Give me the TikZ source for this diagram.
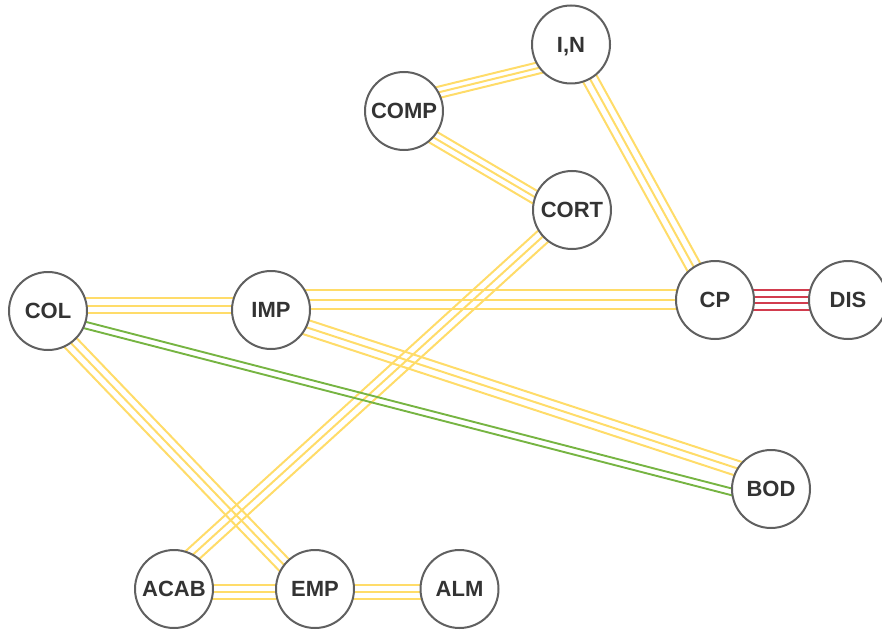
\documentclass[tikz,border=0pt]{standalone}
\usepackage{fontspec}
\setmainfont{Liberation Sans}
\usetikzlibrary{calc,backgrounds}

\definecolor{tie}{RGB}{255,220,105}
\definecolor{clash}{RGB}{210,60,78}
\definecolor{bond}{RGB}{118,180,66}
\definecolor{rim}{RGB}{96,96,96}
\definecolor{ink}{RGB}{51,51,51}

\tikzset{
  person/.style={circle, draw=rim, line width=2pt, fill=white,
    minimum size=78pt, inner sep=0pt, text=ink,
    font=\fontsize{22}{26}\selectfont\bfseries,
    text height=15.7pt, text depth=0pt},
  tieline/.style={draw=tie, line width=2pt},
  clashline/.style={draw=clash, line width=1.9pt},
  bondline/.style={draw=bond, line width=1.9pt}
}

% parallel strands between two points, offsets in pt (positive = left of travel)
\newcommand{\strands}[4]{%
  \foreach \o in {#4}{%
    \draw[#3] ($(#1)!\o pt!90:(#2)$) -- ($(#2)!\o pt!-90:(#1)$);
  }%
}

\begin{document}
\begin{tikzpicture}[x=1pt,y=-1pt]
  \useasboundingbox (0,0) rectangle (882,631);

  % people
  \node[person] (IN)   at (571,44.5) {I,N};
  \node[person] (COMP) at (404,111)  {COMP};
  \node[person] (CORT) at (572,210)  {CORT};
  \node[person] (COL)  at (48,311)   {COL};
  \node[person] (IMP)  at (271,310)  {IMP};
  \node[person] (CP)   at (715,300)  {CP};
  \node[person] (DIS)  at (848,300)  {DIS};
  \node[person] (BOD)  at (771,489)  {BOD};
  \node[person] (ACAB) at (174,589)  {ACAB};
  \node[person] (EMP)  at (315,589)  {EMP};
  \node[person] (ALM)  at (459.5,589) {ALM};

  % attachment points of the strand bundles
  \coordinate (colA)  at ($(COL)+(0,-5.5)$);
  \coordinate (impA)  at ($(IMP)+(0,-4.5)$);
  \coordinate (impB)  at ($(IMP)+(0,-10.5)$);
  \coordinate (cpB)   at ($(CP)+(0,-0.5)$);
  \coordinate (compC) at ($(COMP)+(0,-10.2)$);
  \coordinate (inC)   at ($(IN)+(0,15.5)$);
  \coordinate (compD) at ($(COMP)+(0,9)$);
  \coordinate (cortD) at ($(CORT)+(0,9)$);
  \coordinate (cpE)   at ($(CP)+(-3,0)$);
  \coordinate (colF)  at ($(COL)+(-4,4)$);
  \coordinate (empF)  at ($(EMP)+(-4,4)$);
  \coordinate (acabG) at ($(ACAB)+(-9,-9)$);
  \coordinate (acabH) at ($(ACAB)+(0,3)$);
  \coordinate (empH)  at ($(EMP)+(0,3)$);
  \coordinate (almH)  at ($(ALM)+(0,3)$);
  \coordinate (impK)  at ($(IMP)+(0,5.7)$);
  \coordinate (bodK)  at ($(BOD)+(0,-9.6)$);
  \coordinate (colL)  at ($(COL)+(0,4.5)$);
  \coordinate (bodL)  at ($(BOD)+(0,13)$);

  % relationship lines, kept behind the circles
  \begin{pgfonlayer}{background}
    \strands{colA}{impA}{tieline}{-7.5,0,7.5}
    \strands{impB}{cpB}{tieline}{-9.5,0,9.5}
    \strands{CP}{DIS}{clashline}{-10,-3.33,3.33,10}
    \strands{compC}{inC}{tieline}{-5.6,0,5.6}
    \strands{compD}{cortD}{tieline}{-6.5,0,6.5}
    \strands{IN}{cpE}{tieline}{-7.5,0,7.5}
    \strands{colF}{empF}{tieline}{-7.5,0,7.5}
    \strands{CORT}{acabG}{tieline}{-7.5,0,7.5}
    \strands{acabH}{empH}{tieline}{-7,0,7}
    \strands{empH}{almH}{tieline}{-7,0,7}
    \strands{impK}{bodK}{tieline}{-7.5,0,7.5}
    \strands{colL}{bodL}{bondline}{-3.3,3.3}
  \end{pgfonlayer}
\end{tikzpicture}
\end{document}
